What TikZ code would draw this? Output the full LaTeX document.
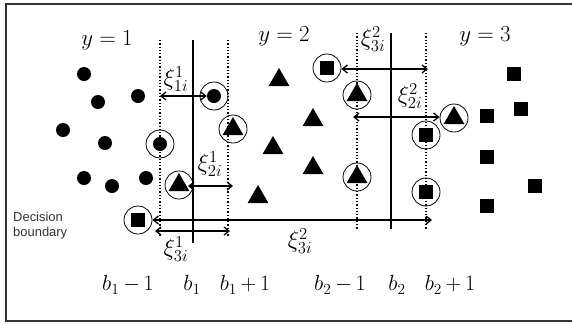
\RequirePackage{fix-cm}
\documentclass[tikz,border=0pt]{standalone}
\usepackage{fontspec}
\newfontfamily\arialf{Liberation Sans}
\usetikzlibrary{arrows.meta,shapes.geometric}
\begin{document}
\begin{tikzpicture}[x=1bp,y=-1bp,
  dotpt/.style={circle,fill=black,inner sep=0pt,minimum size=14bp},
  tript/.style={regular polygon,regular polygon sides=3,fill=black,inner sep=0pt,minimum size=24bp},
  sqpt/.style={rectangle,fill=black,inner sep=0pt,minimum size=14bp},
  ring/.style={circle,draw=black,line width=0.8bp,inner sep=0pt,minimum size=28bp},
  solidline/.style={line width=1.5bp},
  dotline/.style={line width=1.3bp,dotted},
  dbl/.style={line width=1.3bp,{Straight Barb[length=5bp,width=8bp]}-{Straight Barb[length=5bp,width=8bp]}},
  cls/.style={font=\fontsize{23}{25}\selectfont,inner sep=0pt},
  blab/.style={font=\fontsize{22}{24}\selectfont,inner sep=0pt},
  xlab/.style={font=\fontsize{24}{26}\selectfont,inner sep=0pt}]
\useasboundingbox (0,0) rectangle (572,324);
\fill[white] (0,0) rectangle (572,324);
% frame
\coordinate (fr1) at (572,4);
\coordinate (fr2) at (6,4);
\coordinate (fr3) at (6,321);
\coordinate (fr4) at (572,321);
\draw[line width=1.6bp,black!80] (fr1) -- (fr2) -- (fr3) -- (fr4);

% vertical lines
\coordinate (a1t) at (160,40); \coordinate (a1b) at (160,236);
\coordinate (a2t) at (193,40); \coordinate (a2b) at (193,243);
\coordinate (a3t) at (228,40); \coordinate (a3b) at (228,236);
\coordinate (c1t) at (357,33); \coordinate (c1b) at (357,229);
\coordinate (c2t) at (391,33); \coordinate (c2b) at (391,229);
\coordinate (c3t) at (426,33); \coordinate (c3b) at (426,229);
\draw[dotline] (a1t) -- (a1b);
\draw[solidline] (a2t) -- (a2b);
\draw[dotline] (a3t) -- (a3b);
\draw[dotline] (c1t) -- (c1b);
\draw[solidline] (c2t) -- (c2b);
\draw[dotline] (c3t) -- (c3b);

% class y=1 points
\node[dotpt] (d1) at (84,74) {};
\node[dotpt] (d2) at (98,102) {};
\node[dotpt] (d3) at (138,96) {};
\node[dotpt] (d4) at (63,130) {};
\node[dotpt] (d5) at (105,143) {};
\node[dotpt] (d6) at (84,178) {};
\node[dotpt] (d7) at (112,186) {};
\node[dotpt] (d8) at (146,178) {};
\node[dotpt] (d9) at (160,144) {}; \node[ring] (r9) at (160,144) {};
\node[dotpt] (d10) at (214,96) {}; \node[ring] (r10) at (214,96) {};

% class y=2 points
\node[tript] (t1) at (279,80) {};
\node[tript] (t2) at (313,120) {};
\node[tript] (t3) at (273,148) {};
\node[tript] (t4) at (313,168) {};
\node[tript] (t5) at (258,197) {};
\node[tript] (t6) at (233,129) {}; \node[ring] (r6) at (233,129) {};
\node[tript] (t7) at (179,185) {}; \node[ring] (r7) at (179,185) {};
\node[tript] (t8) at (357,95) {}; \node[ring] (r8) at (357,95) {};
\node[tript] (t9) at (357,177) {}; \node[ring] (r9b) at (357,177) {};
\node[tript] (t10) at (454,118) {}; \node[ring] (r10b) at (454,118) {};

% class y=3 points
\node[sqpt] (s1) at (514,74) {};
\node[sqpt] (s2) at (521,109) {};
\node[sqpt] (s3) at (487,116) {};
\node[sqpt] (s4) at (487,157) {};
\node[sqpt] (s5) at (535,186) {};
\node[sqpt] (s6) at (487,206) {};
\node[sqpt] (s7) at (327,68) {}; \node[ring] (rs7) at (327,68) {};
\node[sqpt] (s8) at (426,135) {}; \node[ring] (rs8) at (426,135) {};
\node[sqpt] (s9) at (426,192) {}; \node[ring] (rs9) at (426,192) {};
\node[sqpt] (s10) at (138,220) {}; \node[ring] (rs10) at (138,220) {};

% arrows
\coordinate (e1) at (160,96);
\draw[dbl] (e1) -- (d10);
\coordinate (e2a) at (188,186); \coordinate (e2b) at (233,186);
\draw[dbl] (e2a) -- (e2b);
\coordinate (e3) at (432,220);
\draw[dbl] (rs10) -- (e3);
\coordinate (e4a) at (155,231); \coordinate (e4b) at (230,231);
\draw[dbl] (e4a) -- (e4b);
\coordinate (e5) at (428,69);
\draw[dbl] (rs7.east |- e5) -- (e5);
\coordinate (e6a) at (353,117);
\draw[dbl] (e6a) -- (r10b.west |- e6a);

% xi labels
\node[xlab] (x1) at (176,79) {$\xi^1_{1i}$};
\node[xlab] (x2) at (210,164) {$\xi^1_{2i}$};
\node[xlab] (x3) at (176,249) {$\xi^1_{3i}$};
\node[xlab] (x4) at (300,241) {$\xi^2_{3i}$};
\node[xlab] (x5) at (373,39) {$\xi^2_{3i}$};
\node[xlab] (x6) at (410,96) {$\xi^2_{2i}$};

% class labels
\node[cls] (y1) at (107,40) {$y=1$};
\node[cls] (y2) at (284,36) {$y=2$};
\node[cls] (y3) at (485,36) {$y=3$};

% b labels
\node[blab] (b1m) at (128,285) {$b_1\,{-}\,1$};
\node[blab] (b1) at (192,285) {$b_1$};
\node[blab] (b1p) at (245,285) {$b_1\,{+}\,1$};
\node[blab] (b2m) at (340,285) {$b_2\,{-}\,1$};
\node[blab] (b2) at (397,285) {$b_2$};
\node[blab] (b2p) at (450,285) {$b_2\,{+}\,1$};

% decision boundary
\node[font=\arialf\fontsize{13}{14.5}\selectfont,text=black!80,align=left,anchor=north west,inner sep=0pt] (db) at (13,212) {Decision\\boundary};
\end{tikzpicture}
\end{document}
